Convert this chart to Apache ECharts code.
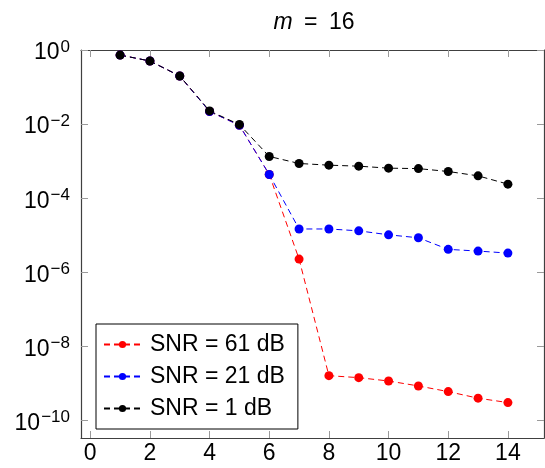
<!DOCTYPE html>
<html>
<head>
<meta charset="utf-8">
<script src="https://cdn.jsdelivr.net/npm/echarts@6/dist/echarts.min.js"></script>
<style>
  html, body { margin: 0; padding: 0; background: #fff; }
  #chart { width: 545px; height: 468px; }
</style>
</head>
<body>
<div id="chart"></div>
<script>
// Iteration index
const xValues = [1, 2, 3, 4, 5, 6, 7, 8, 9, 10, 11, 12, 13, 14];

// Error per iteration for each noise level
const snr61 = [0.73, 0.505, 0.199, 0.0219, 0.0093, 4.38e-4, 2.28e-6, 1.63e-9, 1.44e-9, 1.17e-9, 8.6e-10, 6.05e-10, 4.02e-10, 3.06e-10];
const snr21 = [0.73, 0.505, 0.199, 0.0219, 0.0093, 4.38e-4, 1.48e-5, 1.48e-5, 1.32e-5, 1.03e-5, 8.57e-6, 4.17e-6, 3.75e-6, 3.31e-6];
const snr1  = [0.73, 0.505, 0.199, 0.0227, 0.00975, 1.34e-3, 8.67e-4, 7.8e-4, 7.33e-4, 6.48e-4, 6.3e-4, 5.27e-4, 4.02e-4, 2.4e-4];

const seriesNames = ['SNR = 61 dB', 'SNR = 21 dB', 'SNR = 1 dB'];
const seriesColors = ['#ff0000', '#0000ff', '#000000'];

// Tick positions
const xTicks = [0, 2, 4, 6, 8, 10, 12, 14];
const yTickExponents = [-10, -8, -6, -4, -2, 0];
const yTicks = yTickExponents.map(e => Math.pow(10, e));

const FONT = '"Liberation Sans", Arial, sans-serif';
const tickColor = '#9a9a9a';

function pairs(ys) { return xValues.map((x, i) => [x, ys[i]]); }

function supLabel(v) {
  const e = Math.round(Math.log10(v));
  const s = e < 0 ? '\u2212' + Math.abs(e) : String(e);
  return '{b|10}{s|' + s + '}';
}

const chart = echarts.init(document.getElementById('chart'), null, { renderer: 'canvas' });

const xCommon = {
  type: 'value', min: -0.31, max: 15.21,
  splitLine: { show: false },
  axisLine: { show: true, onZero: false, lineStyle: { color: '#404040', width: 1.2 } },
  axisTick: { show: true, inside: true, length: 7, customValues: xTicks, lineStyle: { color: tickColor, width: 1 } }
};
const yCommon = {
  type: 'log', logBase: 10, min: Math.pow(10, -10.47), max: 1,
  splitLine: { show: false },
  axisLine: { show: true, onZero: false, lineStyle: { color: '#404040', width: 1.2 } },
  axisTick: { show: true, inside: true, length: 7, customValues: yTicks, lineStyle: { color: tickColor, width: 1 } }
};

const series = [snr61, snr21, snr1].map((d, i) => ({
  name: seriesNames[i],
  type: 'line',
  data: pairs(d),
  symbol: 'circle',
  symbolSize: 9,
  color: seriesColors[i],
  itemStyle: { color: seriesColors[i] },
  lineStyle: { color: seriesColors[i], width: 1, type: [6, 4] },
  animation: false
}));

chart.setOption({
  backgroundColor: '#fff',
  animation: false,
  title: {
    text: '{i|m}\u2002=\u200216',
    left: 314, top: 11, textAlign: 'center', padding: 0,
    textStyle: {
      fontFamily: FONT, fontSize: 23, fontWeight: 'normal', color: '#000',
      rich: { i: { fontFamily: FONT, fontSize: 23, fontStyle: 'italic', color: '#000' } }
    }
  },
  grid: { left: 81, top: 50, width: 463, height: 388, containLabel: false },
  xAxis: [
    Object.assign({}, xCommon, {
      position: 'bottom',
      axisLabel: {
        show: true, customValues: xTicks, margin: 4,
        fontFamily: FONT, fontSize: 23, color: '#000'
      }
    }),
    Object.assign({}, xCommon, { position: 'top', axisLabel: { show: false } })
  ],
  yAxis: [
    Object.assign({}, yCommon, {
      position: 'left',
      axisLabel: {
        show: true, customValues: yTicks, margin: 11,
        formatter: supLabel,
        rich: {
          b: { fontFamily: FONT, fontSize: 23, color: '#000', padding: [6, 0, 0, 0] },
          s: { fontFamily: FONT, fontSize: 17, color: '#000', padding: [0, 0, 6, 1] }
        }
      }
    }),
    Object.assign({}, yCommon, { position: 'right', axisLabel: { show: false } })
  ],
  legend: {
    orient: 'vertical',
    left: 96, top: 324,
    padding: [9, 13, 9, 7],
    itemWidth: 37, itemHeight: 9, itemGap: 9,
    backgroundColor: '#fff',
    borderColor: '#000', borderWidth: 1, borderRadius: 0,
    textStyle: { fontFamily: FONT, fontSize: 23, color: '#000', lineHeight: 23, padding: [0, 0, 0, 4] },
    data: seriesNames
  },
  series: series
});
</script>
</body>
</html>
